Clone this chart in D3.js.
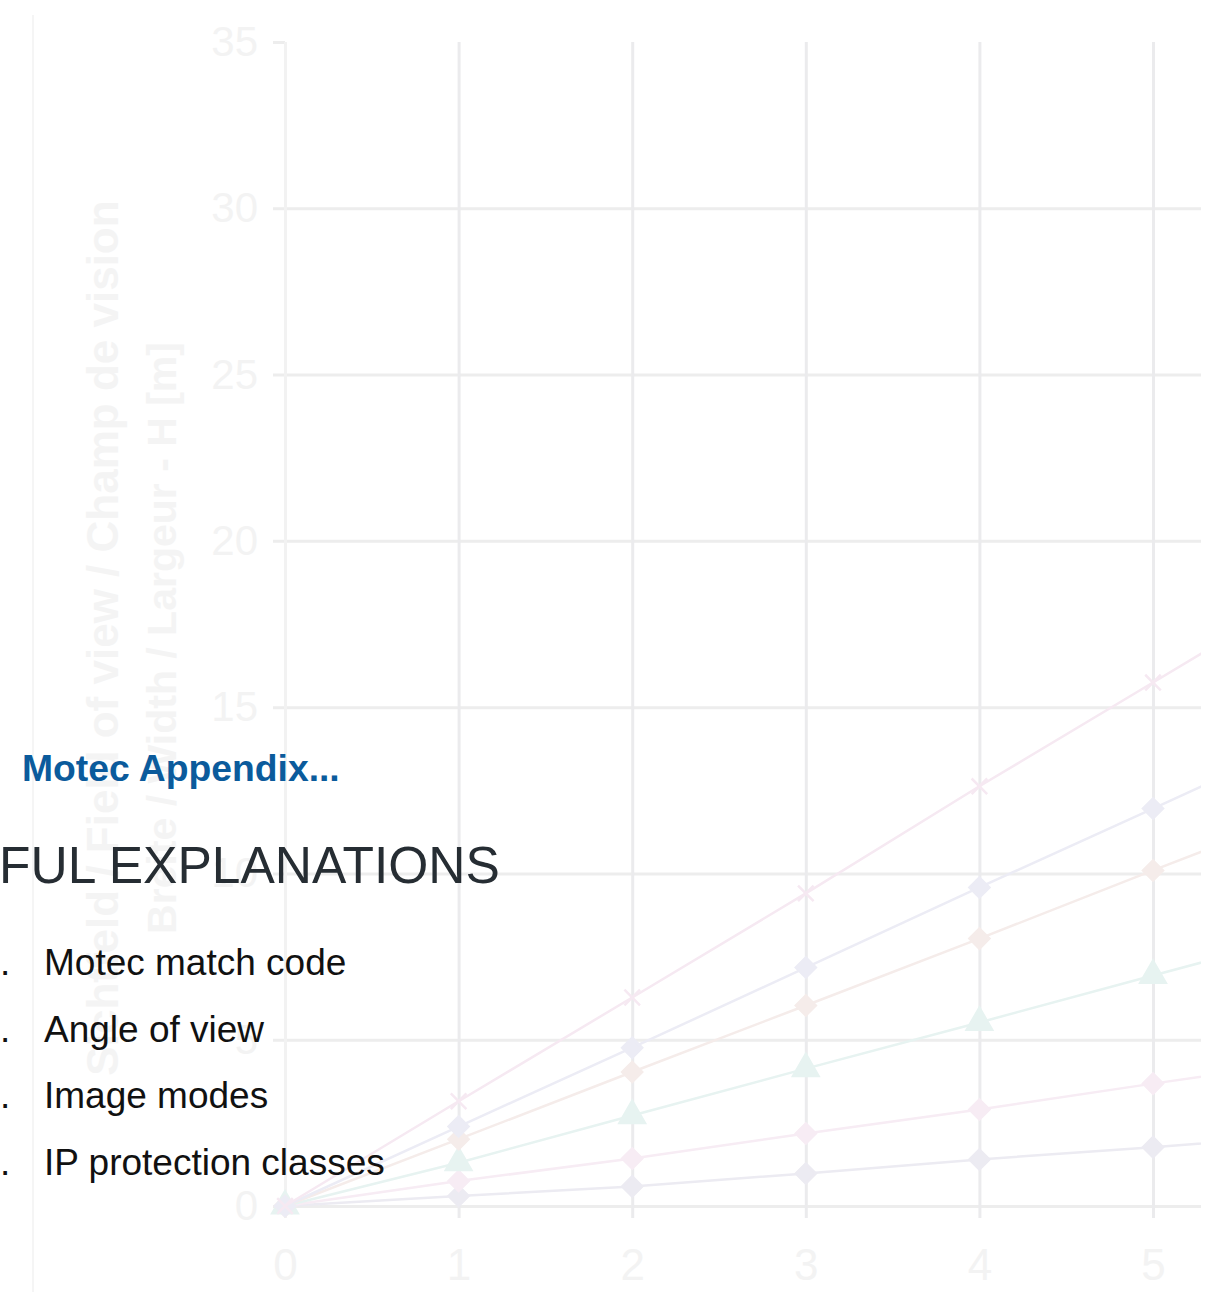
<!DOCTYPE html>
<html>
<head>
<meta charset="utf-8">
<script src="https://cdnjs.cloudflare.com/ajax/libs/d3/7.8.5/d3.min.js"></script>
<style>
  body { margin: 0; background: #ffffff; overflow: hidden; }
  .tick text { font-family: "Liberation Sans", Arial, sans-serif; fill: #f3f3f3; }
</style>
</head>
<body>
<script>
// faded chart behind the slide text

// distance [m]
var distances = [0, 1, 2, 3, 4, 5, 6]
var xTicks = [0, 1, 2, 3, 4, 5]
var yTicks = [0, 5, 10, 15, 20, 25, 30, 35]

// width of field of view per lens
var seriesCross    = [0, 3.15, 6.27, 9.4, 12.62, 15.74, 18.87]
var seriesLavender = [0, 2.39, 4.76, 7.17, 9.58, 11.95, 14.35]
var seriesPeach    = [0, 2.01, 4.03, 6.03, 8.04, 10.09, 12.1]
var seriesTeal     = [0, 1.3, 2.72, 4.13, 5.52, 6.93, 8.33]
var seriesPink     = [0, 0.75, 1.43, 2.18, 2.9, 3.68, 4.42]
var seriesGrey     = [0, 0.3, 0.59, 0.98, 1.4, 1.77, 2.16]

var axisTitle1 = "Sichtfeld / Field of view / Champ de vision"
var axisTitle2 = "Breite / Width / Largeur - H [m]"

var listItems = ["Motec match code", "Angle of view", "Image modes", "IP protection classes"]

var w = 1208
var h = 1292
var margins = {left: 285, right: 7, upper: 42, lower: 86}

var svg = d3.select("body")
            .append("svg")
            .attr("width", w)
            .attr("height", h)

var xScale = d3.scaleLinear()
               .domain([0, 5])
               .range([margins.left, 1153])
var yScale = d3.scaleLinear()
               .domain([0, 35])
               .range([h - margins.lower, margins.upper])

var plotRight = w - margins.right

// outer frame line on the left
svg.append("line")
   .attr("x1", 33).attr("x2", 33)
   .attr("y1", 15).attr("y2", h)
   .style("stroke", "#f5f5f5")
   .style("stroke-width", 2)

// horizontal grid + y ticks
var yAxis = svg.append("g")
   .attr("class", "yaxis")
   .attr("transform", "translate(" + margins.left + ",0)")
   .call(d3.axisLeft(yScale).tickValues(yTicks).tickFormat(d3.format("d")).tickSize(12).tickPadding(15))
yAxis.select(".domain").remove()
yAxis.selectAll(".tick line")
     .attr("x2", function(d) { return d === 35 ? 0 : plotRight - margins.left })
     .attr("x1", -12)
     .style("stroke", "#ededed")
     .style("stroke-width", 3)
yAxis.selectAll(".tick text")
     .style("font-size", "42px")

// vertical grid + x ticks
var xAxis = svg.append("g")
   .attr("class", "xaxis")
   .attr("transform", "translate(0," + yScale(0) + ")")
   .call(d3.axisBottom(xScale).tickValues(xTicks).tickFormat(d3.format("d")).tickSize(12).tickPadding(31))
xAxis.select(".domain").remove()
xAxis.selectAll(".tick line")
     .attr("y1", yScale(35) - yScale(0))
     .attr("y2", 12)
     .style("stroke", function(d) { return d === 0 ? "#f2f2f2" : "#ebebed" })
     .style("stroke-width", 3)
xAxis.selectAll(".tick text")
     .style("font-size", "44px")

// y axis titles
var titleY = (yScale(0) + yScale(35)) / 2 + 14
svg.append("text")
   .attr("transform", "translate(118," + titleY + ") rotate(-90)")
   .style("text-anchor", "middle")
   .style("font-family", "Liberation Sans, Arial, sans-serif")
   .style("font-weight", "bold")
   .style("font-size", "44px")
   .style("fill", "#f4f4f4")
   .text(axisTitle1)
svg.append("text")
   .attr("transform", "translate(176," + titleY + ") rotate(-90)")
   .style("text-anchor", "middle")
   .style("font-family", "Liberation Sans, Arial, sans-serif")
   .style("font-weight", "bold")
   .style("font-size", "41px")
   .style("fill", "#f4f4f4")
   .text(axisTitle2)

// lines and markers (square turned 45deg = diamond)
var series = [
  {values: seriesGrey, color: "#ecebf2", shape: d3.symbolSquare},
  {values: seriesPink, color: "#f7ecf4", shape: d3.symbolSquare},
  {values: seriesTeal, color: "#e7f3f1", shape: d3.symbolTriangle},
  {values: seriesPeach, color: "#f5ecea", shape: d3.symbolSquare},
  {values: seriesLavender, color: "#ececf5", shape: d3.symbolSquare},
  {values: seriesCross, color: "#f6e9f2", shape: d3.symbolX}
]

svg.append("clipPath")
   .attr("id", "plotclip")
   .append("rect")
   .attr("x", 0).attr("y", 0)
   .attr("width", plotRight).attr("height", h)

var plot = svg.append("g").attr("clip-path", "url(#plotclip)")

var line = d3.line()
             .x(function(d, i) { return xScale(distances[i]) })
             .y(function(d) { return yScale(d) })

series.forEach(function(s) {
  plot.append("path")
      .datum(s.values)
      .attr("d", line)
      .style("fill", "none")
      .style("stroke", s.color)
      .style("stroke-width", 2.5)

  var size = s.shape === d3.symbolX ? 160 : (s.shape === d3.symbolTriangle ? 280 : 200)
  var turn = s.shape === d3.symbolSquare ? 45 : 0

  plot.selectAll(null)
      .data(s.values)
      .enter()
      .append("path")
      .attr("transform", function(d, i) {
        return "translate(" + xScale(distances[i]) + "," + yScale(d) + ") rotate(" + turn + ")"
      })
      .attr("d", d3.symbol().type(s.shape).size(size))
      .style("fill", s.shape === d3.symbolX ? "none" : s.color)
      .style("stroke", s.color)
      .style("stroke-width", 2.5)
})

// slide text on top
svg.append("text")
   .attr("x", 22).attr("y", 781)
   .style("font-family", "Liberation Sans, Arial, sans-serif")
   .style("font-weight", "bold")
   .style("font-size", "37.3px")
   .style("fill", "#0b5b9c")
   .text("Motec Appendix...")

svg.append("text")
   .attr("x", -1).attr("y", 883)
   .style("font-family", "Liberation Sans, Arial, sans-serif")
   .style("font-size", "51.5px")
   .style("fill", "#262d33")
   .text("FUL EXPLANATIONS")

var items = svg.selectAll(".item")
               .data(listItems)
               .enter()
               .append("g")
               .attr("class", "item")
               .attr("transform", function(d, i) { return "translate(0," + (975 + i * 66.5) + ")" })
items.append("text")
     .attr("x", 0)
     .style("font-family", "Liberation Sans, Arial, sans-serif")
     .style("font-size", "37px")
     .style("fill", "#111111")
     .text(".")
items.append("text")
     .attr("x", 44)
     .style("font-family", "Liberation Sans, Arial, sans-serif")
     .style("font-size", "37px")
     .style("fill", "#111111")
     .text(function(d) { return d })
</script>
</body>
</html>
